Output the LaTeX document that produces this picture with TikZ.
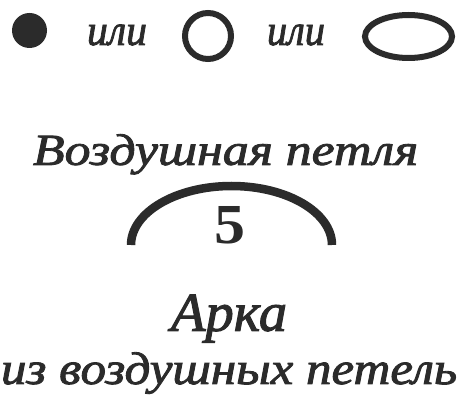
\documentclass[tikz,border=0pt]{standalone}
\usepackage{fontspec}
\setmainfont{Liberation Serif}
\newfontfamily\calli{Liberation Serif}[FakeBold=1.8]
\definecolor{ink}{HTML}{2B2B2B}
\newcommand{\fitline}[3]{\resizebox{#1}{#2}{\smash{#3}\vphantom{x}}}
\newcommand{\fitcap}[3]{\resizebox{#1}{#2}{\smash{#3}\vphantom{В}}}
\begin{document}
\begin{tikzpicture}[x=1pt,y=-1pt,
  txt/.style={inner sep=0pt,outer sep=0pt,anchor=south west,text=ink,font=\calli\itshape},
  ring/.style={draw=ink,line width=6pt}]
\useasboundingbox (0,0) rectangle (461,406);
\fill[white] (0,0) rectangle (461,406);
% top row
\fill[ink] (29.5,30.5) circle (17.5) coordinate (dot);
\node[txt] (or1) at (87,45) {\fitline{60pt}{20pt}{или}};
\draw[ring] (208,36) ellipse [x radius=23, y radius=23];
\coordinate (ring) at (208,36);
\node[txt] (or2) at (267,45) {\fitline{58pt}{20pt}{или}};
\draw[ring] (408.5,36.5) ellipse [x radius=43.5, y radius=21.5];
\coordinate (oval) at (408.5,36.5);
% title
\node[txt] (title) at (33,165) {\fitcap{385pt}{29pt}{Воздушная петля}};
% arch
\draw[ink,line width=8.5pt] (131,245) arc [start angle=180, end angle=360, x radius=100.5, y radius=59];
\node[inner sep=0pt,anchor=south,text=ink] (five) at (230,244) {\resizebox{31pt}{37pt}{\bfseries 5}};
% caption
\node[txt] (arka) at (171,331) {\fitcap{116pt}{36pt}{Арка}};
\node[txt] (sub) at (1,384) {\fitline{456pt}{21pt}{из воздушных петель}};
\end{tikzpicture}
\end{document}
